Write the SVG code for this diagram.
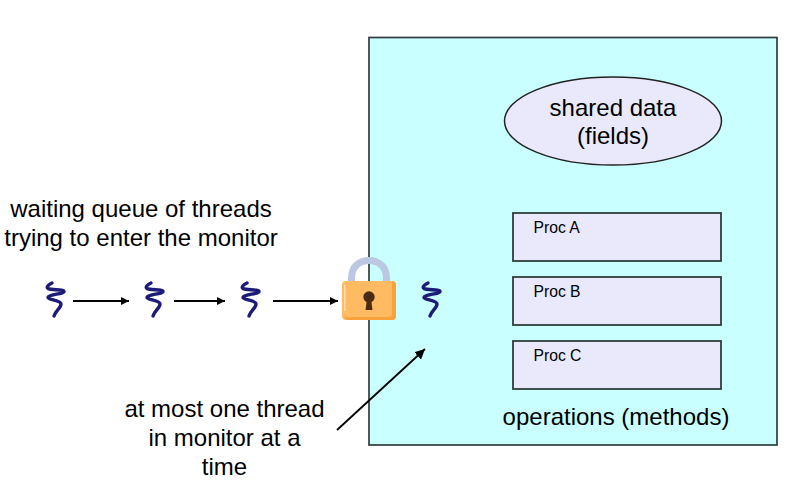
<svg xmlns="http://www.w3.org/2000/svg" width="788" height="492" viewBox="0 0 788 492">
<style>
text{font-family:"Liberation Sans",Arial,sans-serif;fill:#000;text-anchor:middle}
.l{font-size:24px}
.p{font-size:15.700px;text-anchor:start}
.box{fill:#e9e9fb;stroke:#2f3d3d;stroke-width:1.800}
.conn{stroke:#000;stroke-width:1.800;fill:none}
.th{fill:none;stroke:#1c1c78;stroke-width:3.400;stroke-linecap:round;stroke-linejoin:round}
</style>
<defs>
<marker id="a" markerUnits="userSpaceOnUse" markerWidth="10" markerHeight="10" refX="8" refY="4" orient="auto"><path d="M0 0L8 4L0 8Z" fill="#000"/></marker>
<marker id="b" markerUnits="userSpaceOnUse" markerWidth="12" markerHeight="12" refX="10" refY="5" orient="auto"><path d="M0 0L10 5L0 10Z" fill="#000"/></marker>
<path id="t" d="M-3 -18C-7 -16 -9 -14 -7 -12.500C-4 -10.500 9 -12 9 -9.500C9 -7 -7 -6.500 -7 -3.500C-7 -1 6 -1 6 3C6 7 1 9 -1 15"/>
</defs>
<g id="monitor"><rect x="369" y="37.500" width="408" height="407.500" fill="#c9ffff" stroke="#2f3d3d" stroke-width="1.700"/></g>
<g id="shared-data"><ellipse cx="613" cy="121" rx="108.500" ry="44" fill="#e9e9fb" stroke="#222" stroke-width="1.500"/><text class="l" x="613" y="116">shared data</text><text class="l" x="613" y="144">(fields)</text></g>
<g id="proc-a"><rect class="box" x="513" y="213" width="208" height="48"/><text class="p" x="533.500" y="233">Proc A</text></g>
<g id="proc-b"><rect class="box" x="513" y="277" width="208" height="48"/><text class="p" x="533.500" y="297">Proc B</text></g>
<g id="proc-c"><rect class="box" x="513" y="341" width="208" height="48"/><text class="p" x="533.500" y="361">Proc C</text></g>
<g id="operations"><text class="l" x="616" y="425">operations (methods)</text></g>
<g id="queue-label"><text class="l" x="141" y="217">waiting queue of threads</text><text class="l" x="141" y="246">trying to enter the monitor</text></g>
<g id="note"><text class="l" x="224.500" y="417">at most one thread</text><text class="l" x="224.500" y="446">in monitor at a</text><text class="l" x="224.500" y="475">time</text></g>
<g id="thread-1"><use href="#t" class="th" x="55" y="301"/></g>
<g id="thread-2"><use href="#t" class="th" x="154" y="301"/></g>
<g id="thread-3"><use href="#t" class="th" x="250" y="301"/></g>
<g id="thread-4"><use href="#t" class="th" x="431" y="301"/></g>
<g id="connectors">
<line class="conn" x1="73" y1="301" x2="129" y2="301" marker-end="url(#a)"/>
<line class="conn" x1="174" y1="301" x2="225" y2="301" marker-end="url(#a)"/>
<line class="conn" x1="273" y1="301" x2="338" y2="301" marker-end="url(#a)"/>
<line class="conn" x1="337" y1="430" x2="425" y2="349" marker-end="url(#b)"/>
</g>
<g id="lock">
<path d="M351.500 284V278C351.500 267 359 260.500 369 260.500C379 260.500 386.500 267 386.500 278V284" fill="none" stroke="#bcc8e2" stroke-width="7"/>
<rect x="342" y="281" width="54" height="39" rx="4" fill="#ffba62"/>
<path d="M392 281Q396 281 396 285V316Q396 320 392 320H350Q345 320 344 317H388Q392 317 392 313Z" fill="#f9a13a"/>
<rect x="344" y="285" width="1.500" height="26" fill="#ffdcae"/>
<circle cx="369" cy="297" r="5.700" fill="#4a2d10"/>
<path d="M367 299H371L372.500 310H365.500Z" fill="#4a2d10"/>
</g>
</svg>
